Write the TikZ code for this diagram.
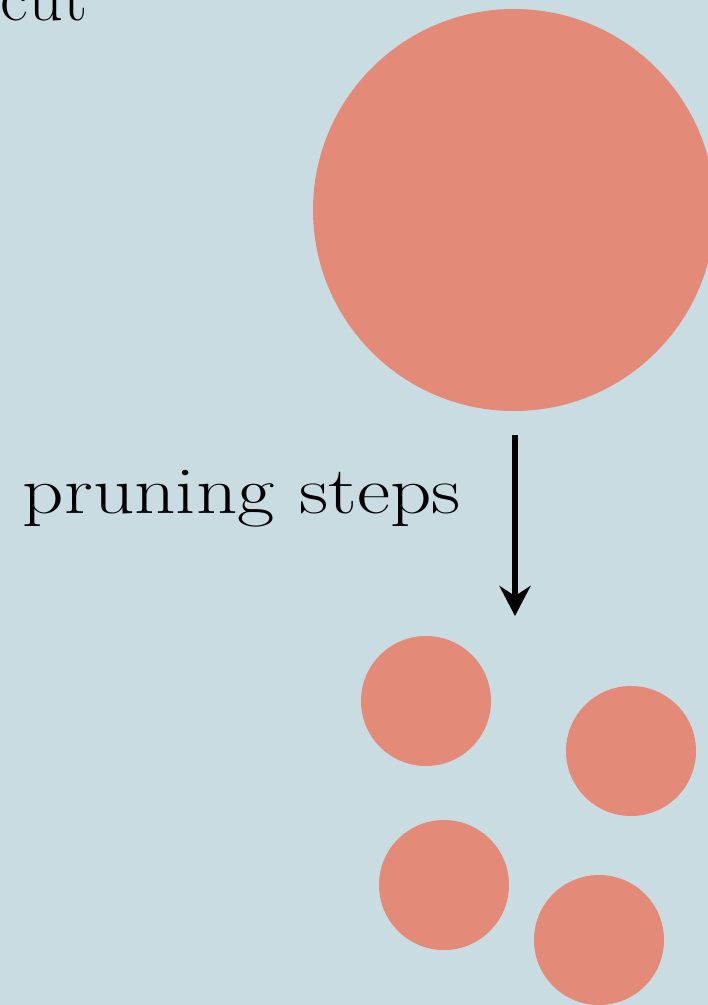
\documentclass[tikz,border=0pt]{standalone}
\usepackage{fontspec}
\usepackage{graphicx}
\usetikzlibrary{arrows.meta}
\definecolor{bgblue}{HTML}{C9DCE2}
\definecolor{salmon}{HTML}{E38A78}
\tikzset{
  blob/.style={circle, fill=salmon, draw=none, inner sep=0pt},
  lbl/.style={inner sep=0pt, outer sep=0pt, text=black, font=\fontsize{67}{74}\selectfont},
  arr/.style={line width=5.5pt, -{Stealth[length=30pt,width=31pt,inset=10pt]}}
}
\begin{document}
\begin{tikzpicture}[x=1pt,y=-1pt]
\fill[bgblue] (0,0) rectangle (708,1005);
\useasboundingbox (0,0) rectangle (708,1005);
\clip (0,0) rectangle (708,1005);
\node[blob, minimum size=402pt] (big) at (514,210) {};
\node[blob, minimum size=130pt] (s1) at (426,701) {};
\node[blob, minimum size=130pt] (s2) at (631,751) {};
\node[blob, minimum size=130pt] (s3) at (444,885) {};
\node[blob, minimum size=130pt] (s4) at (599,940) {};
\node[lbl, anchor=base west, font=\fontsize{68}{74}\selectfont] (cut) at (1,20) {cut};
\node[lbl, anchor=base west] (prune) at (23,513) {\scalebox{1.21}[1]{pruning steps}};
\coordinate (atop) at (515,435);
\coordinate (abot) at (515,616);
\draw[arr] (atop) -- (abot);
\end{tikzpicture}
\end{document}
